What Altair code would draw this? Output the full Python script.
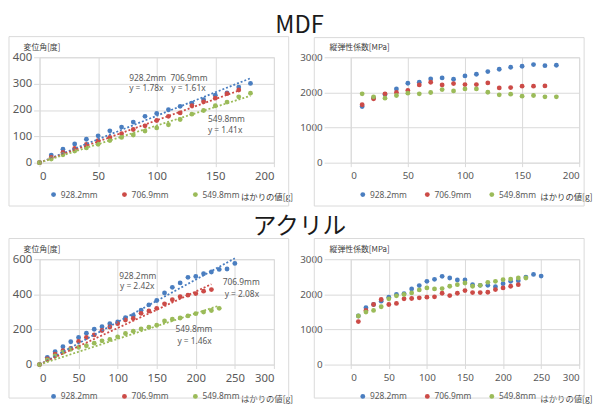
import altair as alt
import pandas as pd

SERIES = ["928.2mm", "706.9mm", "549.8mm"]
COLORS = ["#4A7EC0", "#CC4B47", "#9BBB59"]

# ---------------- MDF : 変位角 ----------------
mdf_ang_x_928 = [0, 10, 20, 30, 40, 50, 60, 70, 80, 90, 100, 110, 120, 130, 140, 150, 160, 170, 180]
mdf_ang_928 = [0, 29, 51, 71, 89, 102, 121, 135, 154, 176, 187, 201, 214, 226, 239, 256, 265, 287, 301]
mdf_ang_x_706 = [0, 10, 20, 30, 40, 50, 60, 70, 80, 90, 100, 110, 120, 130, 140, 150, 160, 170]
mdf_ang_706 = [0, 20, 39, 54, 69, 84, 96, 110, 126, 140, 160, 176, 189, 216, 231, 245, 262, 276]
mdf_ang_x_549 = [0, 10, 20, 30, 40, 50, 60, 70, 80, 90, 100, 110, 120, 130, 140, 150, 160, 170, 180]
mdf_ang_549 = [0, 14, 30, 44, 56, 70, 84, 96, 105, 120, 132, 144, 164, 184, 198, 216, 230, 250, 264]
mdf_slopes = [1.78, 1.61, 1.41]
mdf_trend_xmax = [180, 170, 180]

# ---------------- MDF : 縦弾性係数 ----------------
mdf_mod_x_928 = [10, 20, 30, 40, 50, 60, 70, 80, 90, 100, 110, 120, 130, 140, 150, 160, 170, 180]
mdf_mod_928 = [1599, 1840, 1940, 2101, 2262, 2290, 2385, 2413, 2375, 2470, 2517, 2593, 2659, 2716, 2745, 2792, 2763, 2773]
mdf_mod_x_706 = [10, 20, 30, 40, 50, 60, 70, 80, 90, 100, 110, 120, 130, 140, 150, 160, 170]
mdf_mod_706 = [1650, 1817, 1959, 1997, 2054, 2215, 2290, 2215, 2252, 2224, 2224, 2271, 2129, 2139, 2177, 2177, 2186]
mdf_mod_x_549 = [10, 20, 30, 40, 50, 60, 70, 80, 90, 100, 110, 120, 130, 140, 150, 160, 170, 180]
mdf_mod_549 = [1959, 1874, 1836, 1912, 1978, 1959, 1997, 2082, 2044, 2101, 2101, 2006, 1931, 1950, 1893, 1912, 1874, 1874]

# ---------------- アクリル : 変位角 ----------------
ac_ang_x_928 = [0, 10, 20, 30, 40, 50, 60, 70, 80, 90, 100, 110, 120, 130, 140, 150, 160, 170, 180, 190, 200, 210, 220, 230, 240, 250]
ac_ang_928 = [0, 41, 73, 102, 130, 154, 179, 201, 216, 233, 243, 267, 280, 310, 340, 365, 408, 440, 465, 497, 502, 517, 527, 542, 544, 576]
ac_ang_x_706 = [0, 10, 20, 30, 40, 50, 60, 70, 80, 90, 100, 110, 120, 130, 140, 150, 160, 170, 180, 190, 200, 210, 220]
ac_ang_706 = [0, 32, 60, 79, 92, 132, 154, 169, 194, 214, 233, 254, 263, 292, 305, 320, 346, 369, 386, 395, 404, 418, 427]
ac_ang_x_549 = [0, 10, 20, 30, 40, 50, 60, 70, 80, 90, 100, 110, 120, 130, 140, 150, 160, 170, 180, 190, 200, 210, 220, 230]
ac_ang_549 = [0, 26, 49, 70, 87, 98, 107, 122, 135, 143, 158, 177, 190, 203, 213, 224, 248, 258, 265, 277, 290, 299, 308, 320]
ac_slopes = [2.42, 2.08, 1.46]
ac_trend_xmax = [250, 220, 230]

# ---------------- アクリル : 縦弾性係数 ----------------
ac_mod_x_928 = [10, 20, 30, 40, 50, 60, 70, 80, 90, 100, 110, 120, 130, 140, 150, 160, 170, 180, 190, 200, 210, 220, 230, 240, 250]
ac_mod_928 = [1382, 1617, 1711, 1805, 1918, 1994, 2022, 2153, 2248, 2370, 2426, 2511, 2464, 2407, 2407, 2276, 2257, 2257, 2219, 2304, 2370, 2389, 2492, 2567, 2520]
ac_mod_x_706 = [10, 20, 30, 40, 50, 60, 70, 80, 90, 100, 110, 120, 130, 140, 150, 160, 170, 180, 190, 200, 210, 220]
ac_mod_706 = [1223, 1542, 1711, 1853, 1711, 1740, 1871, 1881, 1900, 1918, 1928, 2031, 1965, 2031, 2106, 2050, 2050, 2059, 2135, 2182, 2229, 2276]
ac_mod_x_549 = [10, 20, 30, 40, 50, 60, 70, 80, 90, 100, 110, 120, 130, 140, 150, 160, 170, 180, 190, 200, 210, 220, 230]
ac_mod_549 = [1382, 1495, 1542, 1646, 1871, 1956, 1994, 2041, 2125, 2182, 2153, 2163, 2229, 2276, 2323, 2229, 2257, 2342, 2370, 2417, 2435, 2464, 2464]

TITLE_MDF = "MDF"
TITLE_AC = "アクリル"
Y_ANGLE = "変位角[度]"
Y_MOD = "縦弾性係数[MPa]"
X_TITLE = "はかりの値[g]"

GRID = "#D9D9D9"
TXT = "#595959"
FONT = "Noto Sans"
JFONT = "Noto Sans CJK JP"
H = 107


def long_df(xs_list, ys_list):
    rows = []
    for s, xs, ys in zip(SERIES, xs_list, ys_list):
        for x, y in zip(xs, ys):
            rows.append({"series": s, "x": x, "y": y})
    return pd.DataFrame(rows)


def trend_df(slopes, xmaxes):
    rows = []
    for s, k, xm in zip(SERIES, slopes, xmaxes):
        rows.append({"series": s, "x": 0, "y": 0.0})
        rows.append({"series": s, "x": xm, "y": k * xm})
    return pd.DataFrame(rows)


def text_layer(t, px, py, size=8.5, color=TXT, font=FONT, align="left", baseline="middle"):
    return alt.Chart(pd.DataFrame({"t": [t]})).mark_text(
        align=align, baseline=baseline, fontSize=size, font=font, color=color
    ).encode(text="t:N", x=alt.value(px), y=alt.value(py))


def box_layer(x1, x2, y1, y2, opacity=1.0):
    return alt.Chart(pd.DataFrame({"a": [0]})).mark_rect(
        fillOpacity=0, stroke=GRID, strokeWidth=1, strokeOpacity=opacity
    ).encode(x=alt.value(x1), x2=alt.value(x2), y=alt.value(y1), y2=alt.value(y2))


def panel(df, xmax, ymax, ystep, width, ytitle, ytitle_x, ytick, ylab_size, xlab_size,
          legend_x, col_pad, xtitle_x, box, trend=None, notes=(), extras=()):
    x_enc = alt.X(
        "x:Q",
        scale=alt.Scale(domain=[0, xmax], nice=False),
        axis=alt.Axis(
            values=list(range(0, xmax + 1, 50)), title=X_TITLE, titleX=xtitle_x, titleY=34,
            titleAngle=0, titleAlign="left", titleBaseline="middle", titleFont=JFONT,
            titleFontSize=8.5, titleFontWeight="normal", titleColor="#404040",
            labelFont=FONT, labelFontSize=xlab_size, labelColor=TXT, labelPadding=4,
            labelOverlap=False, gridColor=GRID, tickColor=GRID, tickSize=4, domain=False,
        ),
    )
    y_enc = alt.Y(
        "y:Q",
        scale=alt.Scale(domain=[0, ymax], nice=False),
        axis=alt.Axis(
            values=list(range(0, ymax + 1, ystep)), format="d", title=ytitle,
            titleX=ytitle_x, titleY=-10, titleAngle=0, titleAlign="left",
            titleBaseline="middle", titleFont=JFONT, titleFontSize=8,
            titleFontWeight="normal", titleColor="#404040",
            labelFont=FONT, labelFontSize=ylab_size, labelColor=TXT, labelPadding=2,
            labelOverlap=False, gridColor=GRID, tickColor=GRID, tickSize=ytick, domain=False,
        ),
    )
    color = alt.Color(
        "series:N",
        scale=alt.Scale(domain=SERIES, range=COLORS),
        legend=alt.Legend(
            title=None, orient="none", legendX=legend_x, legendY=135,
            direction="horizontal", symbolType="circle", symbolSize=24,
            symbolStrokeWidth=0, labelFont=FONT, labelFontSize=8.5, labelColor=TXT,
            labelOffset=3, columnPadding=col_pad, padding=0,
        ),
    )
    layers = [box_layer(*box)]
    layers.append(alt.Chart(df).mark_circle(size=24, opacity=1).encode(x=x_enc, y=y_enc, color=color))
    if trend is not None:
        layers.append(
            alt.Chart(trend).mark_line(strokeDash=[2, 2], strokeWidth=1.8).encode(
                x=x_enc, y=y_enc, color=color, detail="series:N"
            )
        )
    for n in notes:
        layers.append(text_layer(*n))
    layers.extend(extras)
    return alt.layer(*layers).properties(width=width, height=H)


df_mdf_ang = long_df([mdf_ang_x_928, mdf_ang_x_706, mdf_ang_x_549], [mdf_ang_928, mdf_ang_706, mdf_ang_549])
df_mdf_mod = long_df([mdf_mod_x_928, mdf_mod_x_706, mdf_mod_x_549], [mdf_mod_928, mdf_mod_706, mdf_mod_549])
df_ac_ang = long_df([ac_ang_x_928, ac_ang_x_706, ac_ang_x_549], [ac_ang_928, ac_ang_706, ac_ang_549])
df_ac_mod = long_df([ac_mod_x_928, ac_mod_x_706, ac_mod_x_549], [ac_mod_928, ac_mod_706, ac_mod_549])

tl = panel(
    df_mdf_ang, 200, 400, 100, 238, Y_ANGLE, -16.7, 6, 11.5, 11.5, 10, 22, 204,
    box=(-31, 253, -21, 151),
    trend=trend_df(mdf_slopes, mdf_trend_xmax),
    notes=[
        ("928.2mm", 91, 21), ("y = 1.78x", 91, 31),
        ("706.9mm", 133, 21), ("y = 1.61x", 133.7, 31),
        ("549.8mm", 171, 63), ("y = 1.41x", 171, 74),
    ],
    extras=[
        text_layer(TITLE_MDF, 264, -25, size=24, color="#1a1a1a", font=JFONT, align="center", baseline="alphabetic"),
        box_layer(-31, -30, -46, -45, opacity=0),
    ],
)
tr = panel(
    df_mdf_mod, 200, 3000, 1000, 232, Y_MOD, -22, 27, 10, 10, 8, 15.5, 192,
    box=(-37, 237, -20, 151),
)
bl = panel(
    df_ac_ang, 300, 600, 200, 238, Y_ANGLE, -16.7, 6, 11.5, 11.5, 10, 22, 204,
    box=(-31, 253, -21, 141),
    trend=trend_df(ac_slopes, ac_trend_xmax),
    notes=[
        ("928.2mm", 81, 16.7), ("y = 2.42x", 81.7, 27.7),
        ("706.9mm", 186, 22.7), ("y = 2.08x", 188, 35),
        ("549.8mm", 138, 71), ("y = 1.46x", 140, 82.7),
    ],
    extras=[
        text_layer(TITLE_AC, 264, -26, size=24, color="#1a1a1a", font=JFONT, align="center", baseline="alphabetic"),
    ],
)
br = panel(
    df_ac_mod, 300, 3000, 1000, 232, Y_MOD, -22, 27, 10, 10, 8, 15.5, 192,
    box=(-37, 237, -21, 141),
)

chart = (
    alt.concat(tl, tr, bl, br, columns=2, spacing={"row": 98, "column": 78}, bounds="flush")
    .resolve_scale(color="independent")
    .resolve_legend(color="independent")
    .properties(padding=0)
    .configure_view(stroke=None)
    .configure(background="white")
)

chart.save("out.html", embed_options={"renderer": "svg", "actions": False})
